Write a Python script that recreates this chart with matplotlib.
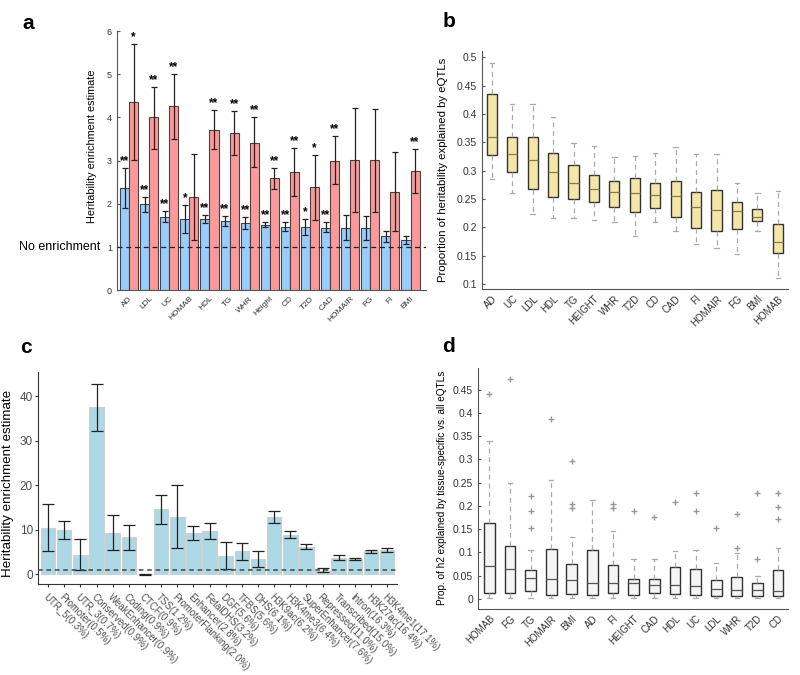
import numpy as np
import matplotlib
matplotlib.use('Agg')
import matplotlib.pyplot as plt

plt.rcParams['font.family'] = ['Liberation Sans', 'DejaVu Sans']

# ---- panel a: enrichment of eQTL sets per trait
traits_a = ['AD', 'LDL', 'UC', 'HOMAB', 'HDL', 'TG', 'WHR', 'Height', 'CD', 'T2D',
            'CAD', 'HOMAIR', 'FG', 'FI', 'BMI']
blue_est = [2.37, 1.99, 1.70, 1.66, 1.64, 1.60, 1.55, 1.52, 1.47, 1.47, 1.45, 1.45, 1.44, 1.25, 1.16]
blue_lo = [1.90, 1.81, 1.57, 1.33, 1.56, 1.49, 1.42, 1.47, 1.36, 1.27, 1.34, 1.16, 1.16, 1.12, 1.08]
blue_hi = [2.83, 2.15, 1.83, 1.98, 1.75, 1.72, 1.70, 1.58, 1.59, 1.66, 1.58, 1.74, 1.72, 1.37, 1.25]
red_est = [4.36, 4.00, 4.26, 2.15, 3.72, 3.63, 3.42, 2.59, 2.74, 2.38, 3.00, 3.02, 3.01, 2.27, 2.76]
red_lo = [3.01, 3.28, 3.51, 1.16, 3.26, 3.12, 2.85, 2.34, 2.18, 1.62, 2.45, 1.81, 1.82, 1.36, 2.26]
red_hi = [5.71, 4.71, 5.00, 3.16, 4.18, 4.15, 4.00, 2.83, 3.30, 3.14, 3.57, 4.22, 4.20, 3.19, 3.26]
blue_sig = ['**', '**', '**', '*', '**', '**', '**', '**', '**', '*', '**', '', '', '', '']
red_sig = ['*', '**', '**', '', '**', '**', '**', '**', '**', '*', '**', '', '', '', '**']

# ---- panel b: proportion of heritability explained by eQTLs
traits_b = ['AD', 'UC', 'LDL', 'HDL', 'TG', 'HEIGHT', 'WHR', 'T2D', 'CD', 'CAD', 'FI',
            'HOMAIR', 'FG', 'BMI', 'HOMAB']
b_whislo = [0.285, 0.260, 0.223, 0.217, 0.217, 0.212, 0.210, 0.185, 0.210, 0.194, 0.171, 0.164, 0.152, 0.194, 0.111]
b_q1 = [0.327, 0.298, 0.267, 0.253, 0.249, 0.244, 0.235, 0.227, 0.234, 0.218, 0.198, 0.193, 0.196, 0.211, 0.154]
b_med = [0.360, 0.329, 0.318, 0.298, 0.278, 0.268, 0.262, 0.261, 0.257, 0.255, 0.236, 0.231, 0.229, 0.218, 0.174]
b_q3 = [0.435, 0.360, 0.360, 0.331, 0.310, 0.292, 0.282, 0.287, 0.278, 0.282, 0.263, 0.265, 0.244, 0.233, 0.205]
b_whishi = [0.491, 0.417, 0.417, 0.394, 0.348, 0.344, 0.324, 0.326, 0.331, 0.342, 0.330, 0.329, 0.278, 0.261, 0.264]

# ---- panel c: enrichment by functional annotation
annots = ['UTR_5(0.3%)', 'Promoter(0.5%)', 'UTR_3(0.7%)', 'Conserved(0.9%)', 'WeakEnhancer(0.9%)',
          'Coding(0.9%)', 'CTCF(0.9%)', 'TSS(1.2%)', 'PromoterFlanking(2.0%)', 'Enhancer(2.8%)',
          'FetalDHS(3.2%)', 'DGF(5.6%)', 'TFBS(5.6%)', 'DHS(6.1%)', 'H3K9ac(6.2%)', 'H3K4me3(6.4%)',
          'SuperEnhancer(7.6%)', 'Repressed(11.0%)', 'Transcribed(15.0%)', 'Intron(16.3%)',
          'H3K27ac(16.4%)', 'H3K4me1(17.1%)']
annot_est = [10.4, 10.0, 4.3, 37.5, 9.3, 8.3, 0.0, 14.6, 12.9, 9.2, 9.7, 4.1, 5.1, 3.4, 12.8, 8.8,
             6.1, 0.6, 3.7, 3.4, 5.2, 5.4]
annot_lo = [5.2, 7.9, 1.0, 32.2, 5.5, 5.5, -0.1, 11.2, 5.8, 7.6, 7.9, 1.1, 3.1, 1.5, 11.4, 8.1,
            5.6, 0.4, 3.2, 3.1, 4.8, 4.9]
annot_hi = [15.8, 12.0, 8.0, 42.8, 13.2, 11.1, 0.1, 17.9, 20.0, 10.8, 11.6, 7.3, 7.1, 5.2, 14.2, 9.6,
            6.7, 1.3, 4.2, 3.7, 5.5, 5.8]

# ---- panel d: tissue-specific vs all eQTLs
traits_d = ['HOMAB', 'FG', 'TG', 'HOMAIR', 'BMI', 'AD', 'FI', 'HEIGHT', 'CAD', 'HDL', 'UC',
            'LDL', 'WHR', 'T2D', 'CD']
d_whislo = [0.002] * 15
d_q1 = [0.012, 0.013, 0.017, 0.009, 0.010, 0.008, 0.012, 0.009, 0.012, 0.011, 0.009, 0.005, 0.007, 0.007, 0.007]
d_med = [0.070, 0.065, 0.044, 0.042, 0.041, 0.035, 0.033, 0.033, 0.029, 0.029, 0.027, 0.022, 0.018, 0.018, 0.017]
d_q3 = [0.164, 0.114, 0.063, 0.108, 0.075, 0.106, 0.073, 0.042, 0.042, 0.068, 0.065, 0.040, 0.047, 0.034, 0.062]
d_whishi = [0.340, 0.249, 0.106, 0.256, 0.134, 0.213, 0.147, 0.086, 0.086, 0.103, 0.106, 0.076, 0.099, 0.050, 0.109]
d_outliers = [[0.440], [0.473], [0.221, 0.188, 0.153], [0.388], [0.297, 0.204, 0.195], [],
              [0.203, 0.195], [0.188], [0.175], [0.208], [0.228, 0.190], [0.152],
              [0.182, 0.109], [0.228, 0.085], [0.227, 0.198, 0.172]]

fig = plt.figure(figsize=(8, 6.75), dpi=100)

def matlab_style(ax):
    for s in ['top', 'right']:
        ax.spines[s].set_visible(False)
    for s in ['left', 'bottom']:
        ax.spines[s].set_color('#555555')
        ax.spines[s].set_linewidth(0.8)
    ax.tick_params(direction='in', length=2.5, colors='#555555', labelcolor='#333333')

# panel a
ax = fig.add_axes([0.146, 0.570, 0.386, 0.384])
x = np.arange(1, len(traits_a) + 1)
bw = 0.45
ekw = dict(ecolor='#222222', elinewidth=0.9, capsize=2.5, capthick=0.9)
be = np.array(blue_est)
re = np.array(red_est)
ax.bar(x - bw / 2, be, bw, color='#99CCFF', edgecolor='#444444', linewidth=0.8,
       yerr=[be - np.array(blue_lo), np.array(blue_hi) - be], error_kw=ekw, zorder=2)
ax.bar(x + bw / 2, re, bw, color='#FF9999', edgecolor='#444444', linewidth=0.8,
       yerr=[re - np.array(red_lo), np.array(red_hi) - re], error_kw=ekw, zorder=3)
for i in range(len(traits_a)):
    if blue_sig[i]:
        ax.text(x[i] - bw / 2, blue_hi[i] + 0.02, blue_sig[i], ha='center', va='bottom',
                fontsize=8.5, fontweight='bold', zorder=1)
    if red_sig[i]:
        ax.text(x[i] + bw / 2, red_hi[i] + 0.02, red_sig[i], ha='center', va='bottom',
                fontsize=8.5, fontweight='bold', zorder=4)
ax.axhline(1, color='#222222', ls=(0, (4, 3)), lw=0.9, zorder=5)
ax.set_xlim(0.39, 15.75)
ax.set_ylim(0, 6)
ax.set_xticks(x)
ax.set_xticklabels(traits_a, rotation=45, ha='right', rotation_mode='anchor', fontsize=6)
ax.set_yticks(range(7))
matlab_style(ax)
ax.tick_params(axis='y', labelsize=6.5)
ax.tick_params(axis='x', length=0)
ax.set_ylabel('Heritability enrichment estimate', fontsize=7.8)
ax.yaxis.set_label_coords(-0.065, 0.555)
fig.text(0.024, 1 - 246.8 / 675, 'No enrichment', fontsize=9, va='center', ha='left')
fig.text(0.028, 0.965, 'a', fontsize=15, fontweight='bold', va='center')

# panel b
ax = fig.add_axes([0.602, 0.572, 0.383, 0.353])
stats = []
for i, t in enumerate(traits_b):
    stats.append(dict(label=t, whislo=b_whislo[i], q1=b_q1[i], med=b_med[i], q3=b_q3[i],
                      whishi=b_whishi[i], fliers=[]))
ax.bxp(stats, positions=range(1, len(traits_b) + 1), widths=0.5, patch_artist=True,
       boxprops=dict(facecolor='#F3E6A7', edgecolor='#333333', linewidth=1.0),
       medianprops=dict(color='#8A7A45', linewidth=0.9),
       whiskerprops=dict(color='#AAAAAA', linestyle=(0, (4, 3)), linewidth=0.9),
       capprops=dict(color='#AAAAAA', linewidth=0.9), capwidths=0.22)
ax.set_xlim(0.5, 15.5)
ax.set_ylim(0.091, 0.512)
bt = np.arange(0.1, 0.501, 0.05)
ax.set_yticks(bt)
ax.set_yticklabels([f'{v:g}' for v in np.round(bt, 2)])
ax.set_xticks(range(1, len(traits_b) + 1))
ax.set_xticklabels(traits_b, rotation=45, ha='right', rotation_mode='anchor', fontsize=7)
matlab_style(ax)
ax.tick_params(axis='y', labelsize=7.5)
ax.tick_params(axis='x', length=0)
ax.set_ylabel('Proportion of heritability explained by eQTLs', fontsize=8.2, labelpad=6)
fig.text(0.553, 0.968, 'b', fontsize=15, fontweight='bold', va='center')

# panel c
ax = fig.add_axes([0.048, 0.135, 0.448, 0.314])
xc = np.arange(len(annots))
ce = np.array(annot_est)
ax.bar(xc, ce, 0.9, color='#ADD8E6', edgecolor='#D0D0D0', linewidth=0.8, zorder=2)
ax.errorbar(xc, ce, yerr=[ce - np.array(annot_lo), np.array(annot_hi) - ce], fmt='none',
            ecolor='#222222', elinewidth=0.9, capsize=4, capthick=0.9, zorder=3)
ax.axhline(1, color='#444444', ls=(0, (3, 2.5)), lw=1.1, zorder=4)
ax.set_xlim(-0.6, 21.6)
ax.set_ylim(-2.2, 45.5)
ax.set_yticks([0, 10, 20, 30, 40])
ax.set_xticks(xc)
ax.set_xticklabels(annots, rotation=-45, ha='left', va='top', rotation_mode='anchor',
                   fontsize=6.9, color='#4D4D4D')
for s in ['top', 'right']:
    ax.spines[s].set_visible(False)
for s in ['left', 'bottom']:
    ax.spines[s].set_color('#333333')
    ax.spines[s].set_linewidth(0.8)
ax.tick_params(axis='both', direction='out', length=2.5, colors='#333333')
ax.tick_params(axis='y', labelsize=8.5, labelcolor='#4D4D4D', pad=1.5)
ax.tick_params(axis='x', labelcolor='#4D4D4D')
ax.set_ylabel('Heritability enrichment estimate', fontsize=9.6)
ax.yaxis.set_label_coords(-0.068, 0.474)
fig.text(0.025, 0.485, 'c', fontsize=15, fontweight='bold', va='center')

# panel d
ax = fig.add_axes([0.5975, 0.098, 0.388, 0.357])
stats = []
for i, t in enumerate(traits_d):
    stats.append(dict(label=t, whislo=d_whislo[i], q1=d_q1[i], med=d_med[i], q3=d_q3[i],
                      whishi=d_whishi[i], fliers=d_outliers[i]))
ax.bxp(stats, positions=range(1, len(traits_d) + 1), widths=0.52, patch_artist=True,
       boxprops=dict(facecolor='#F5F5F5', edgecolor='#333333', linewidth=1.0),
       medianprops=dict(color='#555555', linewidth=0.9),
       whiskerprops=dict(color='#AAAAAA', linestyle=(0, (4, 3)), linewidth=0.9),
       capprops=dict(color='#AAAAAA', linewidth=0.9), capwidths=0.22,
       flierprops=dict(marker='+', markeredgecolor='#999999', markersize=5, linestyle='none'))
ax.set_xlim(0.45, 15.5)
ax.set_ylim(-0.0216, 0.497)
dt = np.arange(0, 0.451, 0.05)
ax.set_yticks(dt)
ax.set_yticklabels([f'{v:g}' for v in np.round(dt, 2)])
ax.set_xticks(range(1, len(traits_d) + 1))
ax.set_xticklabels(traits_d, rotation=45, ha='right', rotation_mode='anchor', fontsize=7)
matlab_style(ax)
ax.tick_params(axis='y', labelsize=7.5)
ax.tick_params(axis='x', length=0)
ax.set_ylabel('Prop. of h2 explained by tissue-specific vs. all eQTLs', fontsize=7.2, labelpad=4)
fig.text(0.553, 0.487, 'd', fontsize=15, fontweight='bold', va='center')

fig.savefig('out.png', dpi=100)
